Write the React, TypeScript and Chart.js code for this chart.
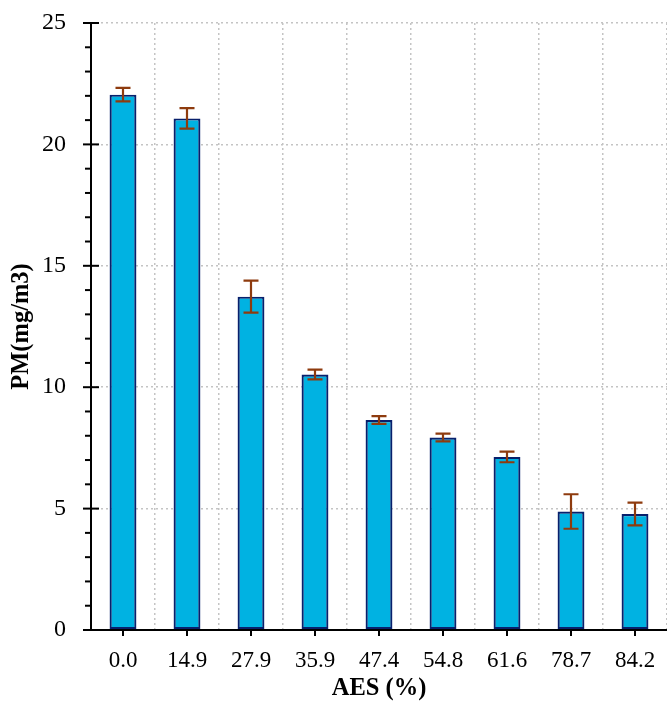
import React, { useEffect, useRef } from "react";
import { Chart, registerables } from "chart.js";

Chart.register(...registerables);

const categories: string[] = ["0.0", "14.9", "27.9", "35.9", "47.4", "54.8", "61.6", "78.7", "84.2"];
const pmValues: number[] = [22.05, 21.07, 13.73, 10.52, 8.65, 7.93, 7.13, 4.88, 4.78];
const pmErrors: number[] = [0.28, 0.42, 0.66, 0.2, 0.16, 0.16, 0.22, 0.71, 0.47];
const yTickValues: number[] = [0, 5, 10, 15, 20, 25];

const SERIF = "'Liberation Serif', 'Times New Roman', serif";

const axesPlugin = {
  id: "customAxes",
  afterDatasetsDraw(chart: any) {
    const ctx = chart.ctx;
    const ys = chart.scales.y;
    const area = chart.chartArea;
    const meta = chart.getDatasetMeta(0);
    // error bars
    ctx.save();
    ctx.strokeStyle = "#8E3B0E";
    ctx.lineWidth = 2.2;
    meta.data.forEach((bar: any, i: number) => {
      const x = bar.x;
      const yTop = ys.getPixelForValue(pmValues[i] + pmErrors[i]);
      const yBot = ys.getPixelForValue(pmValues[i] - pmErrors[i]);
      ctx.beginPath();
      ctx.moveTo(x, yTop);
      ctx.lineTo(x, yBot);
      ctx.moveTo(x - 7.5, yTop);
      ctx.lineTo(x + 7.5, yTop);
      ctx.moveTo(x - 7.5, yBot);
      ctx.lineTo(x + 7.5, yBot);
      ctx.stroke();
    });
    ctx.restore();

    // axes
    ctx.save();
    ctx.strokeStyle = "#000";
    ctx.lineWidth = 2;
    ctx.beginPath();
    ctx.moveTo(area.left, area.top);
    ctx.lineTo(area.left, area.bottom + 1);
    ctx.moveTo(area.left - 1, area.bottom);
    ctx.lineTo(area.right, area.bottom);
    ctx.stroke();
    for (let v = 0; v <= 25; v++) {
      const y = ys.getPixelForValue(v);
      ctx.beginPath();
      if (v % 5 === 0) {
        ctx.moveTo(area.left - 8, y);
        ctx.lineTo(area.left + 8, y);
      } else {
        ctx.moveTo(area.left - 6, y);
        ctx.lineTo(area.left, y);
      }
      ctx.stroke();
    }
    meta.data.forEach((bar: any) => {
      ctx.beginPath();
      ctx.moveTo(bar.x, area.bottom);
      ctx.lineTo(bar.x, area.bottom + 6);
      ctx.stroke();
    });
    ctx.restore();
  },
};

export default function App() {
  const canvasRef = useRef<HTMLCanvasElement | null>(null);

  useEffect(() => {
    document.body.style.margin = "0";
    const canvas = canvasRef.current;
    if (!canvas) return;
    const chart = new Chart(canvas, {
      type: "bar",
      data: {
        labels: categories,
        datasets: [
          {
            label: "PM",
            data: pmValues,
            backgroundColor: "#00B2E2",
            borderColor: "#08206C",
            borderWidth: 2.2,
            borderSkipped: false,
            barPercentage: 0.42,
            categoryPercentage: 1,
          },
        ],
      },
      options: {
        responsive: false,
        animation: false,
        devicePixelRatio: 1,
        layout: { padding: { top: 23, right: 0, left: 0, bottom: 0 } },
        plugins: {
          legend: { display: false },
          tooltip: { enabled: false },
        },
        scales: {
          x: {
            offset: true,
            border: { display: false },
            grid: {
              offset: true,
              drawTicks: false,
              color: "#c4c4c4",
              lineWidth: 1.5,
            },
            ticks: {
              color: "#000",
              padding: 17,
              font: { family: SERIF, size: 23 },
              maxRotation: 0,
            },
            title: {
              display: true,
              text: "AES (%)",
              color: "#000",
              font: { family: SERIF, size: 24.5, weight: "bold" },
              padding: { top: 0, bottom: 0 },
            },
            afterFit: (scale: any) => {
              scale.height = 73;
              scale.paddingLeft = 0;
              scale.paddingRight = 0;
              scale.paddingTop = 0;
              scale.paddingBottom = 0;
            },
          } as any,
          y: {
            min: 0,
            max: 25,
            border: { display: false },
            afterBuildTicks: (scale: any) => {
              scale.ticks = yTickValues.map((v) => ({ value: v }));
            },
            grid: {
              drawTicks: false,
              color: (c: any) => (c.tick && c.tick.value === 0 ? "rgba(0,0,0,0)" : "#c4c4c4"),
              lineWidth: 1.5,
            },
            ticks: {
              color: "#000",
              padding: 25,
              font: { family: SERIF, size: 24 },
            },
            title: {
              display: true,
              text: "PM(mg/m3)",
              color: "#000",
              font: { family: SERIF, size: 24.5, weight: "bold" },
              padding: { top: 7, bottom: 0 },
            },
            afterFit: (scale: any) => {
              scale.width = 91;
              scale.paddingTop = 0;
              scale.paddingBottom = 0;
              scale.paddingLeft = 0;
              scale.paddingRight = 0;
            },
          } as any,
        },
      },
      plugins: [axesPlugin],
    });
    const sx: any = (chart.options.scales as any).x;
    const sy: any = (chart.options.scales as any).y;
    sx.border.dash = [2, 3];
    sy.border.dash = [2, 3];
    chart.update();
    return () => chart.destroy();
  }, []);

  return (
    <div style={{ width: 667, height: 703 }}>
      <canvas ref={canvasRef} width={667} height={703} style={{ display: "block" }} />
    </div>
  );
}
